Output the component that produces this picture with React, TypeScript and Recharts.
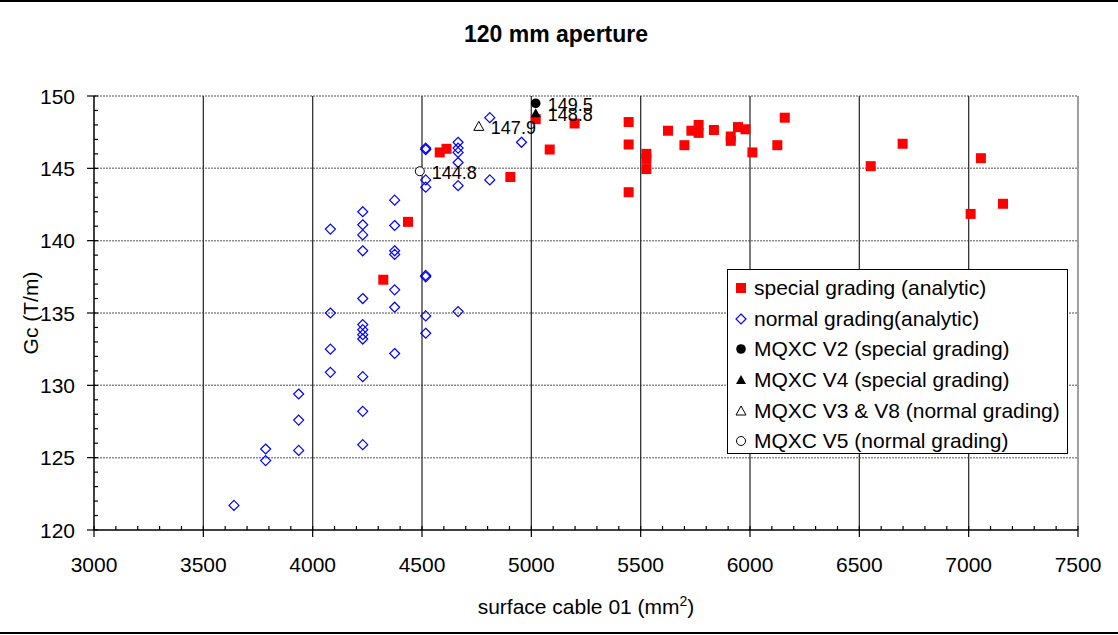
import { ScatterChart, Scatter, XAxis, YAxis, ReferenceLine, Legend, LabelList } from "recharts"

const FONT = "'Liberation Sans', Arial, sans-serif"

// axis ticks
const xTicks = [3000, 3500, 4000, 4500, 5000, 5500, 6000, 6500, 7000, 7500]
const yTicks = [120, 125, 130, 135, 140, 145, 150]
const xGrid = [3500, 4000, 4500, 5000, 5500, 6000, 6500, 7000]
const yGrid = [125, 130, 135, 140, 145]

// special grading (analytic)
const specialX = [4323, 4436, 4581, 4612, 4904, 5020, 5084, 5198, 5445, 5445, 5445, 5526, 5526, 5526, 5625, 5700, 5732, 5765, 5765, 5835, 5912, 5912, 5945, 5979, 6011, 6125, 6159, 6552, 6698, 7009, 7056, 7157]
const specialY = [137.3, 141.3, 146.1, 146.35, 144.4, 148.4, 146.3, 148.1, 148.2, 146.65, 143.35, 146.0, 145.65, 144.95, 147.6, 146.6, 147.6, 148.0, 147.45, 147.65, 147.2, 146.9, 147.85, 147.7, 146.1, 146.6, 148.5, 145.15, 146.7, 141.85, 145.7, 142.55]

// normal grading (analytic)
const normalX = [3640, 3785, 3785, 3936, 3936, 3936, 4081, 4081, 4081, 4081, 4229, 4229, 4229, 4229, 4229, 4229, 4229, 4229, 4229, 4229, 4229, 4229, 4375, 4375, 4375, 4375, 4375, 4375, 4375, 4517, 4517, 4517, 4517, 4517, 4517, 4517, 4517, 4665, 4665, 4665, 4665, 4665, 4665, 4810, 4810, 4955]
const normalY = [121.7, 125.6, 124.8, 129.4, 127.6, 125.5, 140.8, 135.0, 132.5, 130.9, 142.0, 141.1, 140.4, 139.3, 136.0, 134.2, 133.85, 133.5, 133.2, 130.6, 128.2, 125.9, 142.8, 141.05, 139.3, 139.05, 136.6, 135.4, 132.2, 146.4, 146.3, 144.2, 143.7, 137.6, 137.5, 134.8, 133.6, 146.8, 146.4, 146.1, 145.4, 143.8, 135.1, 148.5, 144.2, 146.8]

// MQXC magnets
const v2X = [5020]
const v2Y = [149.5]
const v4X = [5020]
const v4Y = [148.8]
const v38X = [4760]
const v38Y = [147.9]
const v5X = [4490]
const v5Y = [144.8]

const toPoints = (xs: number[], ys: number[]) => xs.map((x, i) => ({ x, y: ys[i] }))

// minor ticks every 100 / every 1, majors come from xTicks / yTicks
const xMinor: number[] = []
for (let v = xTicks[0]; v <= xTicks[xTicks.length - 1]; v += 100) xMinor.push(v)
const yMinor: number[] = []
for (let v = yTicks[0]; v <= yTicks[yTicks.length - 1]; v += 1) yMinor.push(v)

type Kind = "square" | "diamond" | "dot" | "tri" | "openTri" | "ring"

function Marker({ kind, cx, cy }: { kind: Kind; cx: number; cy: number }) {
  switch (kind) {
    case "square":
      return <rect x={cx - 5} y={cy - 5} width={10} height={10} fill="#ff0000" />
    case "diamond":
      return <path d={`M${cx},${cy - 5}L${cx + 5},${cy}L${cx},${cy + 5}L${cx - 5},${cy}Z`} fill="none" stroke="#0000ff" strokeWidth={1.2} />
    case "dot":
      return <circle cx={cx} cy={cy} r={4.8} fill="#000" />
    case "ring":
      return <circle cx={cx} cy={cy} r={4.5} fill="#fff" stroke="#000" strokeWidth={1} />
    case "tri":
      return <path d={`M${cx},${cy - 5}L${cx + 5},${cy + 4}L${cx - 5},${cy + 4}Z`} fill="#000" />
    case "openTri":
      return <path d={`M${cx},${cy - 5}L${cx + 5},${cy + 4}L${cx - 5},${cy + 4}Z`} fill="#fff" stroke="#000" strokeWidth={1} />
  }
}

const legendRows: { name: string; kind: Kind }[] = [
  { name: "special grading (analytic)", kind: "square" },
  { name: "normal grading(analytic)", kind: "diamond" },
  { name: "MQXC V2 (special grading)", kind: "dot" },
  { name: "MQXC V4 (special grading)", kind: "tri" },
  { name: "MQXC V3 & V8 (normal grading)", kind: "openTri" },
  { name: "MQXC V5 (normal grading)", kind: "ring" },
]

function XTick(props: any) {
  const { x, y, payload } = props
  const v = payload.value
  const major = xTicks.includes(v)
  return (
    <g>
      <line x1={x} x2={x} y1={y - 4} y2={major ? y + 7 : y} stroke="#000" strokeWidth={1.2} />
      {major && (
        <text x={x} y={y + 27} dy="0.71em" textAnchor="middle" fontSize={21} fontFamily={FONT} fill="#000">
          {v}
        </text>
      )}
    </g>
  )
}

function YTick(props: any) {
  const { x, y, payload } = props
  const v = payload.value
  const major = yTicks.includes(v)
  return (
    <g>
      <line x1={major ? x - 7 : x} x2={x + 4} y1={y} y2={y} stroke="#000" strokeWidth={1.2} />
      {major && (
        <text x={x - 19} y={y} dy="0.36em" textAnchor="end" fontSize={21} fontFamily={FONT} fill="#000">
          {v}
        </text>
      )}
    </g>
  )
}

function ValueLabel(props: any) {
  const { x, y, width, height, value } = props
  const cx = x + width / 2
  const cy = y + height / 2
  return (
    <text x={cx + 12} y={cy + 1} dy="0.36em" fontSize={18} fontFamily={FONT} fill="#000">
      {value}
    </text>
  )
}

function LegendBox() {
  return (
    <div
      style={{
        width: 341,
        height: 185,
        border: "1px solid #000",
        background: "#fff",
        fontFamily: FONT,
        fontSize: 21,
        paddingTop: 3,
        boxSizing: "border-box",
      }}
    >
      {legendRows.map((r) => (
        <div key={r.name} style={{ display: "flex", alignItems: "center", height: 30.6, whiteSpace: "nowrap" }}>
          <svg width={26} height={20} style={{ flex: "none" }}>
            <Marker kind={r.kind} cx={13} cy={10} />
          </svg>
          <span>{r.name}</span>
        </div>
      ))}
    </div>
  )
}

export default function App() {
  return (
    <div style={{ position: "absolute", left: 0, top: 0, width: 1118, height: 635, background: "#fff" }}>
      <div style={{ position: "absolute", left: 0, top: 0, width: 1118, height: 1.5, background: "#000" }} />
      <div style={{ position: "absolute", left: 0, top: 632, width: 1118, height: 1.5, background: "#000" }} />
      <div
        style={{
          position: "absolute",
          left: 0,
          top: 21,
          width: 1112,
          textAlign: "center",
          fontFamily: FONT,
          fontWeight: "bold",
          fontSize: 23,
        }}
      >
        120 mm aperture
      </div>
      <ScatterChart width={1118} height={635} margin={{ top: 96, right: 40, bottom: 0, left: 0 }}>
        <XAxis
          type="number"
          dataKey="x"
          domain={[3000, 7500]}
          ticks={xMinor}
          interval={0}
          tick={<XTick />}
          tickLine={false}
          tickSize={0}
          tickMargin={0}
          height={105}
          axisLine={{ stroke: "#000", strokeWidth: 1.5 }}
          label={{
            content: ({ viewBox }: any) => (
              <text x={viewBox.x + viewBox.width / 2} y={614} textAnchor="middle" fontSize={21} fontFamily={FONT} fill="#000">
                surface cable 01 (mm
                <tspan fontSize={14} dy={-8}>2</tspan>
                <tspan dy={8}>)</tspan>
              </text>
            ),
          }}
        />
        <YAxis
          type="number"
          dataKey="y"
          domain={[120, 150]}
          ticks={yMinor}
          interval={0}
          tick={<YTick />}
          tickLine={false}
          tickSize={0}
          tickMargin={0}
          width={94}
          axisLine={{ stroke: "#000", strokeWidth: 1.5 }}
          label={{
            content: ({ viewBox }: any) => {
              const cy = viewBox.y + viewBox.height / 2
              return (
                <text transform={`translate(30,${cy}) rotate(-90)`} textAnchor="middle" dy="0.36em" fontSize={21} fontFamily={FONT} fill="#000">
                  Gc (T/m)
                </text>
              )
            },
          }}
        />
        {yGrid.map((v) => (
          <ReferenceLine key={"h" + v} y={v} stroke="#8c8c8c" strokeWidth={1.5} strokeDasharray="2 1" />
        ))}
        <ReferenceLine y={150} stroke="#8c8c8c" strokeWidth={1.5} strokeDasharray="2 1" />
        {xGrid.map((v) => (
          <ReferenceLine key={"v" + v} x={v} stroke="#333" strokeWidth={1.3} />
        ))}
        <ReferenceLine x={7500} stroke="#808080" strokeWidth={1.5} />
        <Scatter name={legendRows[0].name} data={toPoints(specialX, specialY)} isAnimationActive={false} shape={(p: any) => <Marker kind="square" cx={p.cx} cy={p.cy} />} />
        <Scatter name={legendRows[1].name} data={toPoints(normalX, normalY)} isAnimationActive={false} shape={(p: any) => <Marker kind="diamond" cx={p.cx} cy={p.cy} />} />
        <Scatter name={legendRows[2].name} data={toPoints(v2X, v2Y)} isAnimationActive={false} shape={(p: any) => <Marker kind="dot" cx={p.cx} cy={p.cy} />}>
          <LabelList dataKey="y" content={<ValueLabel />} />
        </Scatter>
        <Scatter name={legendRows[3].name} data={toPoints(v4X, v4Y)} isAnimationActive={false} shape={(p: any) => <Marker kind="tri" cx={p.cx} cy={p.cy} />}>
          <LabelList dataKey="y" content={<ValueLabel />} />
        </Scatter>
        <Scatter name={legendRows[4].name} data={toPoints(v38X, v38Y)} isAnimationActive={false} shape={(p: any) => <Marker kind="openTri" cx={p.cx} cy={p.cy} />}>
          <LabelList dataKey="y" content={<ValueLabel />} />
        </Scatter>
        <Scatter name={legendRows[5].name} data={toPoints(v5X, v5Y)} isAnimationActive={false} shape={(p: any) => <Marker kind="ring" cx={p.cx} cy={p.cy} />}>
          <LabelList dataKey="y" content={<ValueLabel />} />
        </Scatter>
        <Legend
          layout="vertical"
          align="center"
          verticalAlign="middle"
          content={() => <LegendBox />}
          wrapperStyle={{ left: 727, top: 269, width: 343, height: 187 }}
        />
      </ScatterChart>
    </div>
  )
}
